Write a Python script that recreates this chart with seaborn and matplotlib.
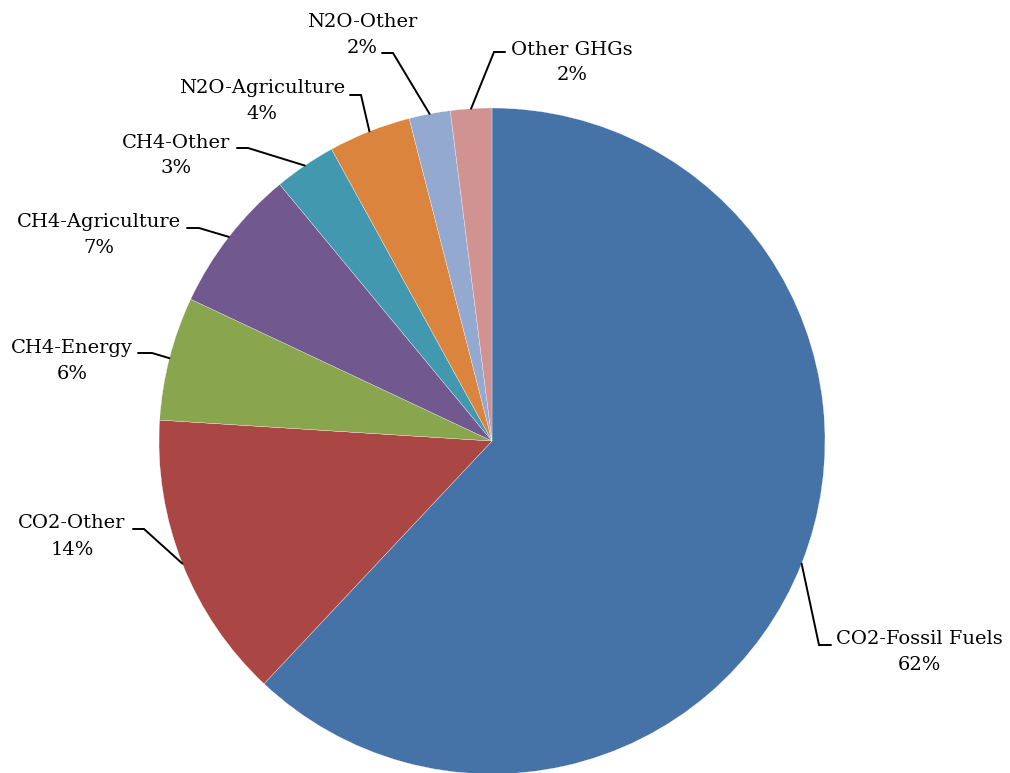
import matplotlib
matplotlib.use("Agg")
import matplotlib.pyplot as plt
import numpy as np
import seaborn as sns

# Greenhouse gas emissions by gas and source (share of total, %)
categories = ["CO2-Fossil Fuels", "CO2-Other", "CH4-Energy", "CH4-Agriculture",
              "CH4-Other", "N2O-Agriculture", "N2O-Other", "Other GHGs"]
shares = [62, 14, 6, 7, 3, 4, 2, 2]
colors = ["#4572A7", "#AA4643", "#89A54E", "#71588F",
          "#4198AF", "#DB843D", "#93A9CF", "#D19392"]

sns.set_theme(style="white")
plt.rcParams["font.family"] = ["DejaVu Serif"]

W, H = 1010, 773
fig = plt.figure(figsize=(W / 100, H / 100), dpi=100)
ax = fig.add_axes([0, 0, 1, 1])

cx, cy, radius = 492, H - 441, 333
wedges, _ = ax.pie(shares, colors=sns.color_palette(colors), startangle=90,
                   counterclock=False, center=(cx, cy), radius=radius,
                   wedgeprops=dict(edgecolor="white", linewidth=0.2))
ax.set_xlim(0, W)
ax.set_ylim(0, H)
ax.set_aspect("auto")
ax.axis("off")

# label layout: text centre x, name-line y, percent-line y, leader segment (outer x, inner x, y)
layout = {
    "CO2-Fossil Fuels": (919, 639, 665, (831, 819, 645)),
    "CO2-Other": (72, 523, 550, (133, 144, 529)),
    "CH4-Energy": (72, 348, 374, (138, 152, 353)),
    "CH4-Agriculture": (99, 222, 248, (187, 199, 228)),
    "CH4-Other": (176, 143, 168, (237, 248, 148)),
    "N2O-Agriculture": (262, 88, 114, (350, 361, 95)),
    "N2O-Other": (362, 22, 48, (382, 393, 53)),
    "Other GHGs": (572, 50, 75, (505, 494, 52)),
}

for wedge, name, val in zip(wedges, categories, shares):
    tx, ny, py, (sx0, sx1, sy) = layout[name]
    mid = np.deg2rad((wedge.theta1 + wedge.theta2) / 2)
    ax0 = cx + radius * np.cos(mid)
    ay0 = cy + radius * np.sin(mid)
    ax.plot([sx0, sx1, ax0], [H - sy, H - sy, ay0], color="black", lw=1.4,
            solid_joinstyle="miter")
    ax.text(tx, H - ny, name, ha="center", va="center", fontsize=14, color="black")
    ax.text(tx, H - py, f"{val}%", ha="center", va="center", fontsize=14, color="black")

fig.savefig("out.png", dpi=100, facecolor="white")
